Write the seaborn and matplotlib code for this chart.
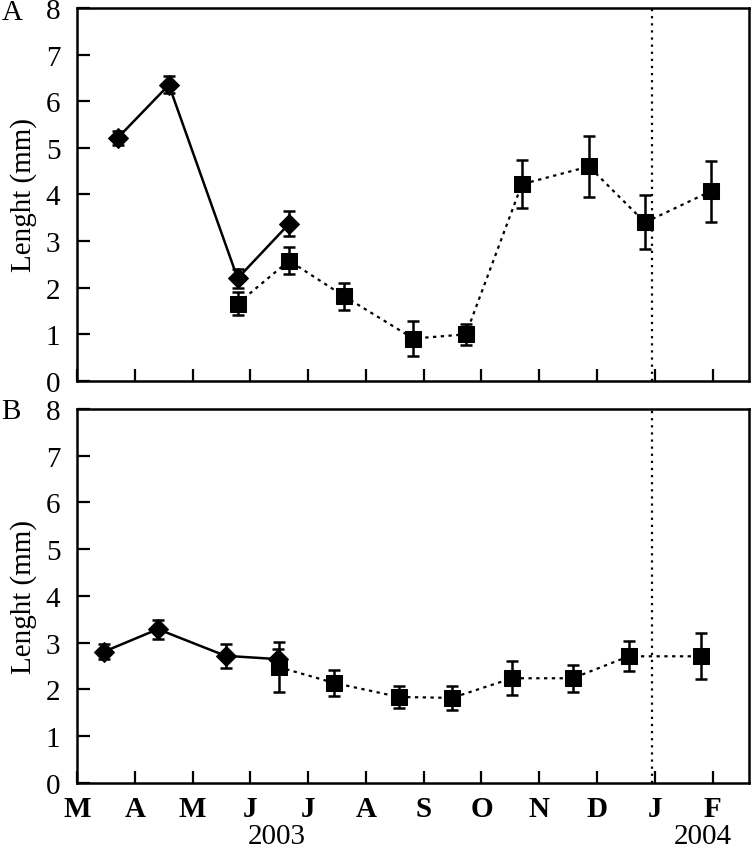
import matplotlib
matplotlib.use("Agg")
import matplotlib.pyplot as plt
import matplotlib.transforms as mtransforms
import seaborn as sns
import pandas as pd

# month index: 0 = March 2003 ... 10 = January 2004, 11 = February 2004
month_labels = ["M", "A", "M", "J", "J", "A", "S", "O", "N", "D", "J", "F"]

# Panel A
a_dia_x = [0.71, 1.59, 2.78, 3.67]
a_dia_y = [5.22, 6.35, 2.20, 3.37]
a_dia_err = [0.15, 0.18, 0.20, 0.27]
a_sq_x = [2.78, 3.67, 4.62, 5.82, 6.73, 7.70, 8.86, 9.83, 10.97]
a_sq_y = [1.66, 2.58, 1.82, 0.91, 1.00, 4.22, 4.60, 3.40, 4.07]
a_sq_err = [0.25, 0.29, 0.29, 0.37, 0.23, 0.52, 0.65, 0.58, 0.65]

# Panel B
b_dia_x = [0.47, 1.40, 2.57, 3.47]
b_dia_y = [2.81, 3.29, 2.72, 2.65]
b_dia_err = [0.16, 0.20, 0.26, 0.22]
b_sq_x = [3.49, 4.45, 5.57, 6.49, 7.53, 8.58, 9.55, 10.80]
b_sq_y = [2.48, 2.14, 1.84, 1.82, 2.24, 2.24, 2.71, 2.71]
b_sq_err = [0.53, 0.28, 0.24, 0.25, 0.36, 0.29, 0.32, 0.49]

year_break = 9.95

sns.set_style("ticks")
plt.rcParams['font.family'] = 'serif'
plt.rcParams['font.serif'] = ['Liberation Serif', 'DejaVu Serif']
plt.rcParams['axes.edgecolor'] = 'black'
plt.rcParams['xtick.color'] = 'black'
plt.rcParams['ytick.color'] = 'black'
plt.rcParams['text.color'] = 'black'
plt.rcParams['axes.labelcolor'] = 'black'

FS = 21
SERIF = 'Liberation Serif'

fig = plt.figure(figsize=(7.52, 8.53), dpi=100)
axA = fig.add_axes([0.1024, 0.5522, 0.8936, 0.4373])
axB = fig.add_axes([0.1024, 0.0809, 0.8936, 0.4385])


def draw_panel(ax, dx, dy, de, sx, sy, se):
    sdf = pd.DataFrame({"x": sx, "y": sy})
    ddf = pd.DataFrame({"x": dx, "y": dy})
    ax.errorbar(sx, sy, yerr=se, fmt="none", ecolor="black", elinewidth=1.8,
                capsize=4, capthick=1.8, zorder=2)
    ax.errorbar(dx, dy, yerr=de, fmt="none", ecolor="black", elinewidth=1.8,
                capsize=4, capthick=1.8, zorder=2)
    sns.lineplot(data=sdf, x="x", y="y", ax=ax, color="black", linewidth=1.6,
                 linestyle=(0, (1.5, 2.0)), marker="s", markersize=11,
                 markeredgecolor="black", markerfacecolor="black", zorder=3,
                 estimator=None, sort=False)
    sns.lineplot(data=ddf, x="x", y="y", ax=ax, color="black", linewidth=1.8,
                 linestyle="-", marker="D", markersize=10,
                 markeredgecolor="black", markerfacecolor="black", zorder=4,
                 estimator=None, sort=False)
    ax.axvline(year_break, color="black", linestyle=(0, (1, 2.2)), linewidth=1.6, zorder=1)
    ax.set_xlim(0, 11.63)
    ax.set_ylim(0, 8)
    ax.set_yticks(range(0, 9))
    ax.set_yticklabels([str(v) for v in range(0, 9)], family=SERIF, fontsize=FS)
    ax.set_xticks(range(0, 12))
    ax.tick_params(direction="in", length=9, width=1.6)
    ax.tick_params(axis="y", pad=12)
    for s in ax.spines.values():
        s.set_linewidth(1.8)
    ax.set_ylabel("Lenght (mm)", family=SERIF, fontsize=FS, labelpad=6)
    ax.set_xlabel("")


draw_panel(axA, a_dia_x, a_dia_y, a_dia_err, a_sq_x, a_sq_y, a_sq_err)
draw_panel(axB, b_dia_x, b_dia_y, b_dia_err, b_sq_x, b_sq_y, b_sq_err)

axA.set_xticklabels([])
axB.set_xticklabels(month_labels, family=SERIF, fontsize=FS, fontweight="bold")
axB.tick_params(axis="x", pad=9)

trans = mtransforms.blended_transform_factory(axB.transData, fig.transFigure)
axB.text(3.46, 0.003, "2003", transform=trans, ha="center", va="bottom",
         family=SERIF, fontsize=FS)
axB.text(10.83, 0.003, "2004", transform=trans, ha="center", va="bottom",
         family=SERIF, fontsize=FS)

fig.text(0.002, 0.985, "A", family=SERIF, fontsize=FS, ha="left", va="center")
fig.text(0.002, 0.517, "B", family=SERIF, fontsize=FS, ha="left", va="center")

fig.savefig("out.png", dpi=100)
